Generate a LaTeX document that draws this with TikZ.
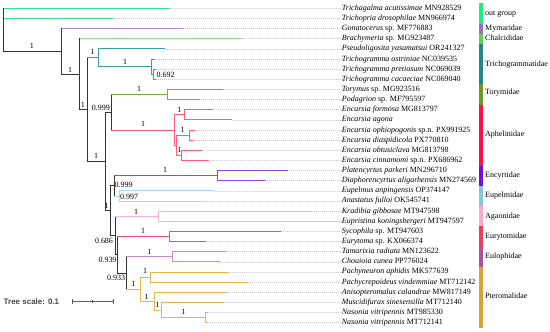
\documentclass[tikz,border=0pt]{standalone}
\usepackage{fontspec}
\setmainfont{Liberation Serif}
\newfontfamily\treescalefont{Liberation Sans}
\definecolor{dk}{HTML}{333333}
\definecolor{og}{HTML}{3DE38F}
\definecolor{mym}{HTML}{A98BD3}
\definecolor{cha}{HTML}{93DB93}
\definecolor{tri}{HTML}{3A9FA0}
\definecolor{tor}{HTML}{7FA83D}
\definecolor{aph}{HTML}{FF5A78}
\definecolor{enc}{HTML}{8F45F0}
\definecolor{eup}{HTML}{A8DBE8}
\definecolor{aga}{HTML}{FFB0D6}
\definecolor{eury}{HTML}{F05070}
\definecolor{eulo}{HTML}{C58ABF}
\definecolor{pte}{HTML}{E8B44C}
\definecolor{bog}{HTML}{1AEF80}
\definecolor{bmym}{HTML}{9B6CC0}
\definecolor{bcha}{HTML}{5BD35B}
\definecolor{btri}{HTML}{208888}
\definecolor{btor}{HTML}{6F9A22}
\definecolor{baph}{HTML}{FF1048}
\definecolor{benc}{HTML}{7010D8}
\definecolor{beup}{HTML}{86C8D8}
\definecolor{baga}{HTML}{FFA6D4}
\definecolor{beury}{HTML}{F03A5E}
\definecolor{beulo}{HTML}{B0509C}
\definecolor{bpte}{HTML}{DAA232}
\begin{document}
\begin{tikzpicture}[x=1pt,y=-1pt,
  br/.style={line width=0.85pt, line cap=rect},
  tipdot/.style={draw=black!22, line width=0.6pt, dash pattern=on 1pt off 1pt},
  tiplab/.style={anchor=west, inner sep=0pt, text height=6pt, text depth=2pt, font=\fontsize{8}{9}\selectfont},
  bs/.style={inner sep=0pt, font=\fontsize{8}{9}\selectfont},
  fam/.style={anchor=west, inner sep=0pt, text height=6pt, text depth=2pt, font=\fontsize{8}{9}\selectfont},
  scalebar/.style={draw=black!65, line width=0.9pt}]
\useasboundingbox (0,0) rectangle (550,332);

% internal nodes
\coordinate (R) at (3.3,29.8);
\coordinate (N1) at (61,51.37);
\coordinate (N2) at (79,74.16);
\coordinate (N3) at (87,109.6);
\coordinate (T) at (98,57.74);
\coordinate (T1) at (151,66.62);
\coordinate (T2) at (153.3,74.22);
\coordinate (N4) at (105,161.45);
\coordinate (N5) at (111,112.26);
\coordinate (Tor) at (167.3,94.51);
\coordinate (A) at (174.3,130.0);
\coordinate (Ap1) at (184.3,114.79);
\coordinate (Ap23) at (176,145.22);
\coordinate (Ap2) at (189.3,135.07);
\coordinate (Ap3) at (181.7,155.36);
\coordinate (N6) at (110,210.63);
\coordinate (E) at (114,185.79);
\coordinate (Enc) at (217.3,175.64);
\coordinate (Eup) at (119,195.93);
\coordinate (N7) at (115,235.47);
\coordinate (Aga) at (158,216.21);
\coordinate (N8) at (117.3,254.72);
\coordinate (Eury) at (169,236.5);
\coordinate (N9) at (126.7,272.95);
\coordinate (Eulo) at (172.7,256.78);
\coordinate (P1) at (140,289.11);
\coordinate (P2) at (150,277.07);
\coordinate (P3) at (154.3,301.16);
\coordinate (P4) at (161.7,310.03);
\coordinate (P5) at (205.7,317.63);

% tips
\foreach \i/\xe/\pa/\cl/\txt in {
1/170/R/og/\textit{Trichagalma acutissimae} MN928529,
2/113/R/og/\textit{Trichopria drosophilae} MN966974,
3/183/N1/mym/\textit{Gonatocerus} sp. MF776883,
4/242/N2/cha/\textit{Brachymeria} sp. MG923487,
5/165/T/tri/\textit{Pseudoligosita yasumatsui} OR241327,
6/154.5/T1/tri/\textit{Trichogramma ostriniae} NC039535,
7/155.5/T2/tri/\textit{Trichogramma pretiosum} NC069039,
8/155.5/T2/tri/\textit{Trichogramma cacaeciae} NC069040,
9/222.7/Tor/tor/\textit{Torymus} sp. MG923516,
10/199.3/Tor/tor/\textit{Podagrion} sp. MF795597,
11/212.3/Ap1/aph/\textit{Encarsia formosa} MG813797,
12/231.7/Ap1/aph/\textit{Encarsia agona},
13/195/Ap2/aph/\textit{Encarsia ophiopogonis} sp.n. PX991925,
14/192.7/Ap2/aph/\textit{Encarsia diaspidicola} PX770810,
15/201.7/Ap3/aph/\textit{Encarsia obtusiclava} MG813798,
16/208.3/Ap3/aph/\textit{Encarsia cinnamomi} sp.n. PX686962,
17/287.3/Enc/enc/\textit{Platencyrtus parkeri} MN296710,
18/265/Enc/enc/\textit{Diaphorencyrtus aligarhensis} MN274569,
19/215/Eup/eup/\textit{Eupelmus anpingensis} OP374147,
20/205/Eup/eup/\textit{Anastatus fulloi} OK545741,
21/312.3/Aga/aga/\textit{Kradibia gibbosae} MT947598,
22/341.7/Aga/aga/\textit{Eupristina koningsbergeri} MT947597,
23/280.7/Eury/eury/\textit{Sycophila} sp. MT947603,
24/206/Eury/eury/\textit{Eurytoma} sp. KX066374,
25/225.7/Eulo/eulo/\textit{Tamarixia radiata} MN123622,
26/220/Eulo/eulo/\textit{Chouioia cunea} PP776024,
27/228.3/P2/pte/\textit{Pachyneuron aphidis} MK577639,
28/248.3/P2/pte/\textit{Pachycrepoideus vindemmiae} MT712142,
29/225.7/P3/pte/\textit{Anisopteromalus calandrae} MW817149,
30/222.7/P4/pte/\textit{Muscidifurax sinesensilla} MT712140,
31/207.5/P5/pte/\textit{Nasonia vitripennis} MT985330,
32/207.5/P5/pte/\textit{Nasonia vitripennis} MT712141}{
  \pgfmathsetmacro\yy{8.3+(\i-1)*10.142}
  \coordinate (e\i) at (\xe,\yy);
  \node[tiplab] (L\i) at (341.7,\yy) {\txt};
  \draw[tipdot] (e\i) -- (L\i.west);
  \draw[br,\cl] (\pa |- e\i) -- (e\i);
}

% vertical lines of internal nodes
\draw[br,dk] (R |- e1) -- (R |- N1);
\draw[br,dk] (N1 |- e3) -- (N1 |- N2);
\draw[br,dk] (N2 |- e4) -- (N2 |- N3);
\draw[br,dk] (N3 |- T) -- (N3 |- N4);
\draw[br,tri] (T |- e5) -- (T |- T1);
\draw[br,tri] (T1 |- e6) -- (T1 |- T2);
\draw[br,tri] (T2 |- e7) -- (T2 |- e8);
\draw[br,dk] (N4 |- N5) -- (N4 |- N6);
\draw[br,dk] (N5 |- Tor) -- (N5 |- A);
\draw[br,tor] (Tor |- e9) -- (Tor |- e10);
\draw[br,aph] (A |- Ap1) -- (A |- Ap23);
\draw[br,aph] (Ap1 |- e11) -- (Ap1 |- e12);
\draw[br,aph] (Ap23 |- Ap2) -- (Ap23 |- Ap3);
\draw[br,aph] (Ap2 |- e13) -- (Ap2 |- e14);
\draw[br,aph] (Ap3 |- e15) -- (Ap3 |- e16);
\draw[br,dk] (N6 |- E) -- (N6 |- N7);
\draw[br,dk] (E |- Enc) -- (E |- Eup);
\draw[br,enc] (Enc |- e17) -- (Enc |- e18);
\draw[br,eup] (Eup |- e19) -- (Eup |- e20);
\draw[br,dk] (N7 |- Aga) -- (N7 |- N8);
\draw[br,aga] (Aga |- e21) -- (Aga |- e22);
\draw[br,dk] (N8 |- Eury) -- (N8 |- N9);
\draw[br,eury] (Eury |- e23) -- (Eury |- e24);
\draw[br,dk] (N9 |- Eulo) -- (N9 |- P1);
\draw[br,eulo] (Eulo |- e25) -- (Eulo |- e26);
\draw[br,pte] (P1 |- P2) -- (P1 |- P3);
\draw[br,pte] (P2 |- e27) -- (P2 |- e28);
\draw[br,pte] (P3 |- e29) -- (P3 |- P4);
\draw[br,pte] (P4 |- e30) -- (P4 |- P5);
\draw[br,pte] (P5 |- e31) -- (P5 |- e32);

% horizontal branches into internal nodes
\foreach \pa/\ch/\cl in {R/N1/dk, N1/N2/dk, N2/N3/dk, N3/T/tri, T/T1/tri, T1/T2/tri,
  N3/N4/dk, N4/N5/dk, N5/Tor/tor, N5/A/aph, A/Ap1/aph, A/Ap23/aph, Ap23/Ap2/aph, Ap23/Ap3/aph,
  N4/N6/dk, N6/E/dk, E/Enc/enc, E/Eup/eup, N6/N7/dk, N7/Aga/aga, N7/N8/dk, N8/Eury/eury,
  N8/N9/dk, N9/Eulo/eulo, N9/P1/pte, P1/P2/pte, P1/P3/pte, P3/P4/pte, P4/P5/pte}{
  \draw[br,\cl] (\pa |- \ch) -- (\ch);
}

% support values
\node[bs] (s1) at (32,46) {1};
\node[bs] (s2) at (70,69.5) {1};
\node[bs] (s3) at (83,105) {1};
\node[bs] (s4) at (92.5,52.3) {1};
\node[bs] (s5) at (125,61.5) {1};
\node[bs] (s6) at (165.5,74.5) {0.692};
\node[bs] (s7) at (139,89.3) {1};
\node[bs] (s8) at (101,107.8) {0.999};
\node[bs] (s9) at (143,124.3) {1};
\node[bs] (s10) at (179.3,110) {1};
\node[bs] (s11) at (182.7,129.5) {1};
\node[bs] (s12) at (179.3,149.5) {1};
\node[bs] (s13) at (96,156) {1};
\node[bs] (s14) at (165,170) {1};
\node[bs] (s15) at (123.5,185) {0.999};
\node[bs] (s16) at (129,196.5) {0.997};
\node[bs] (s17) at (106.5,205.5) {1};
\node[bs] (s18) at (136,211.5) {1};
\node[bs] (s19) at (104,240.5) {0.686};
\node[bs] (s20) at (143,231) {1};
\node[bs] (s21) at (107.5,260) {0.939};
\node[bs] (s22) at (149.3,251.7) {1};
\node[bs] (s23) at (116,277.7) {0.933};
\node[bs] (s24) at (133.3,284.3) {1};
\node[bs] (s25) at (145,271.3) {1};
\node[bs] (s26) at (146.7,296.7) {1};
\node[bs] (s27) at (157.3,305) {1};
\node[bs] (s28) at (183.3,312.3) {1};

% family bars and labels
\foreach \k/\a/\b/\cl/\ly/\name in {
1/1/2/bog/13.4/out group,
2/3/3/bmym/28.8/Mymaridae,
3/4/4/bcha/38.9/Chalcididae,
4/5/8/btri/64/Trichogrammatidae,
5/9/10/btor/92.5/Torymidae,
6/11/16/baph/134/Aphelinidae,
7/17/18/benc/175.3/Encyrtidae,
8/19/20/beup/195.8/Eupelmidae,
9/21/22/baga/216/Agaonidae,
10/23/24/beury/236.2/Eurytomidae,
11/25/26/beulo/256.4/Eulophidae,
12/27/32/bpte/296.5/Pteromalidae}{
  \pgfmathsetmacro\ya{8.3+(\a-1)*10.142-5.07}
  \pgfmathsetmacro\yb{8.3+(\b-1)*10.142+5.07}
  \fill[\cl] (479.3,\ya) rectangle (482.5,\yb);
  \node[fam] (F\k) at (485,\ly) {\name};
}

% tree scale
\node[anchor=west, inner sep=0pt, text=black!72, font=\treescalefont\bfseries\fontsize{8}{9}\selectfont] (ts) at (3.5,301.7) {Tree scale: 0.1};
\coordinate (sa) at (72,301.7);
\coordinate (sb) at (113,301.7);
\coordinate (sm) at (92.5,301.7);
\draw[scalebar] (sa) -- (sb);
\draw[scalebar] ([yshift=-2.3pt]sa) -- ([yshift=2.3pt]sa);
\draw[scalebar] ([yshift=-2.3pt]sb) -- ([yshift=2.3pt]sb);
\draw[scalebar, line width=0.6pt] ([yshift=-1.3pt]sm) -- ([yshift=1.3pt]sm);
\end{tikzpicture}
\end{document}
